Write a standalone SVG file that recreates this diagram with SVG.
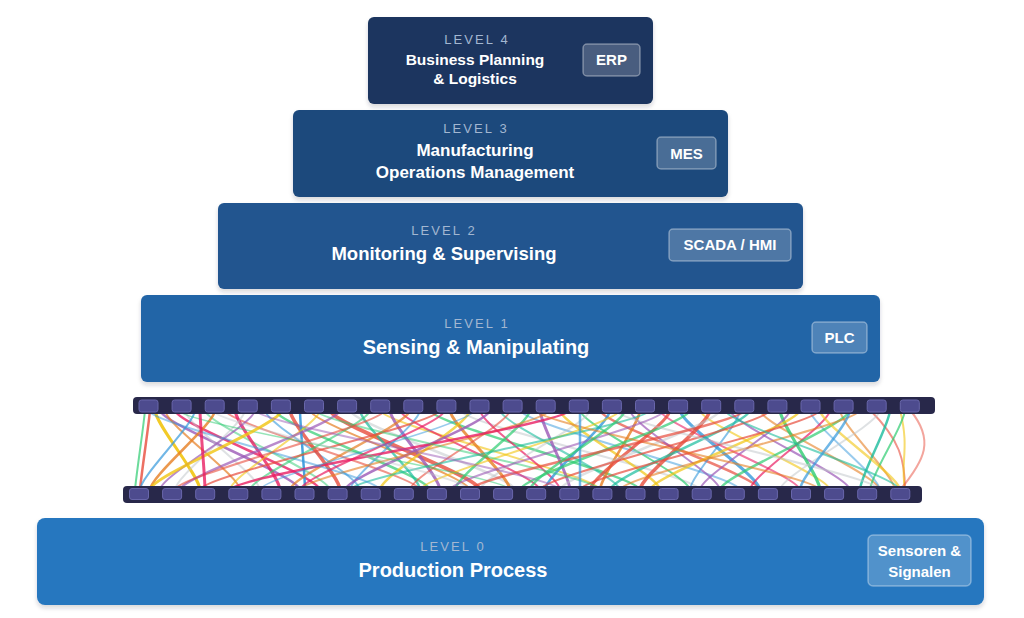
<svg xmlns="http://www.w3.org/2000/svg" width="1024" height="618" viewBox="0 0 1024 618">
<defs>
<filter id="sh" x="-5%" y="-10%" width="110%" height="130%">
<feDropShadow dx="0" dy="3" stdDeviation="2" flood-color="#1a2a40" flood-opacity="0.18"/>
</filter>
<style>
text{font-family:"Liberation Sans",Arial,sans-serif;text-anchor:middle}
.lv{font-size:13px;fill:#a3b7d1;letter-spacing:2.1px}
.tt{font-weight:bold;fill:#ffffff}
.bd{fill:rgba(255,255,255,0.2);stroke:rgba(255,255,255,0.35);stroke-width:1.5}
.bt{font-weight:bold;fill:#ffffff;font-size:15px}
.bar{fill:#28284a}
.port{fill:#4d4b8e;stroke:#6866aa;stroke-width:1}
.w{fill:none;stroke-linecap:round}
.r{stroke:#e74c3c}.g{stroke:#2ecc71}.b{stroke:#3498db}.p{stroke:#9b59b6}.o{stroke:#e67e22}.y{stroke:#f1c40f}.k{stroke:#e91e63}.s{stroke:#bdc3c7}.t{stroke:#1abc9c}
</style>
</defs>
<rect width="1024" height="618" fill="#ffffff"/>

<g id="level4">
<rect x="368" y="17" width="285" height="87" rx="6" fill="#1b365f" filter="url(#sh)"/>
<text class="lv" x="477" y="44">LEVEL 4</text>
<text class="tt" x="475" y="65" font-size="15.5">Business Planning</text>
<text class="tt" x="475" y="84" font-size="15.5">&amp; Logistics</text>
<rect class="bd" x="583" y="44" width="57" height="32" rx="4"/>
<text class="bt" x="611.5" y="65">ERP</text>
</g>

<g id="level3">
<rect x="293" y="110" width="435" height="87" rx="6" fill="#1e4a7b" filter="url(#sh)"/>
<text class="lv" x="476" y="133">LEVEL 3</text>
<text class="tt" x="475" y="156" font-size="17">Manufacturing</text>
<text class="tt" x="475" y="178" font-size="17">Operations Management</text>
<rect class="bd" x="657" y="137" width="59" height="32" rx="4"/>
<text class="bt" x="686.5" y="158.5">MES</text>
</g>

<g id="level2">
<rect x="218" y="203" width="585" height="86" rx="6" fill="#21558f" filter="url(#sh)"/>
<text class="lv" x="444" y="235">LEVEL 2</text>
<text class="tt" x="444" y="260" font-size="18.5">Monitoring &amp; Supervising</text>
<rect class="bd" x="669" y="229" width="122" height="32" rx="4"/>
<text class="bt" x="730" y="250">SCADA / HMI</text>
</g>

<g id="level1">
<rect x="141" y="295" width="739" height="87" rx="6" fill="#2365a7" filter="url(#sh)"/>
<text class="lv" x="477" y="328">LEVEL 1</text>
<text class="tt" x="476" y="354" font-size="20">Sensing &amp; Manipulating</text>
<rect class="bd" x="812" y="322" width="55" height="31" rx="4"/>
<text class="bt" x="839.5" y="343">PLC</text>
</g>

<g id="connectors">
<path class="w g" d="M145 410C144 424 136 476 135 490" stroke-width="2" opacity=".7"/>
<path class="w r" d="M150 410C149 424 141 476 140 490" stroke-width="2.5" opacity=".8"/>
<path class="w y" d="M155 410C155 424 200 476 200 490" stroke-width="3" opacity=".9"/>
<path class="w p" d="M160 410C160 424 300 476 300 490" stroke-width="2.5" opacity=".8"/>
<path class="w o" d="M165 410C165 424 240 476 240 490" stroke-width="2" opacity=".7"/>
<path class="w k" d="M175 410C175 424 320 476 320 490" stroke-width="2.5" opacity=".8"/>
<path class="w s" d="M185 410C185 424 260 476 260 490" stroke-width="2" opacity=".5"/>
<path class="w b" d="M195 410C195 424 140 476 140 490" stroke-width="2" opacity=".7"/>
<path class="w g" d="M205 410C205 424 330 476 330 490" stroke-width="2" opacity=".5"/>
<path class="w o" d="M215 410C215 424 150 476 150 490" stroke-width="2.5" opacity=".8"/>
<path class="w r" d="M225 410C225 424 420 476 420 490" stroke-width="2" opacity=".6"/>
<path class="w k" d="M235 410C235 424 280 476 280 490" stroke-width="3" opacity=".8"/>
<path class="w s" d="M245 410C245 424 175 476 175 490" stroke-width="2" opacity=".5"/>
<path class="w p" d="M255 410C255 424 160 476 160 490" stroke-width="2" opacity=".7"/>
<path class="w b" d="M265 410C265 424 360 476 360 490" stroke-width="2" opacity=".6"/>
<path class="w g" d="M275 410C275 424 430 476 430 490" stroke-width="2.5" opacity=".7"/>
<path class="w r" d="M290 410C290 424 340 476 340 490" stroke-width="3.5" opacity=".8"/>
<path class="w b" d="M300 410C300 424 305 476 305 490" stroke-width="2.5" opacity=".9"/>
<path class="w o" d="M310 410C310 424 470 476 470 490" stroke-width="2" opacity=".7"/>
<path class="w y" d="M320 410C320 424 230 476 230 490" stroke-width="2" opacity=".6"/>
<path class="w r" d="M330 410C330 424 480 476 480 490" stroke-width="4" opacity=".8"/>
<path class="w p" d="M340 410C340 424 180 476 180 490" stroke-width="2.5" opacity=".7"/>
<path class="w s" d="M350 410C350 424 515 476 515 490" stroke-width="2.5" opacity=".5"/>
<path class="w t" d="M360 410C360 424 420 476 420 490" stroke-width="2.5" opacity=".7"/>
<path class="w g" d="M370 410C370 424 250 476 250 490" stroke-width="2" opacity=".6"/>
<path class="w y" d="M380 410C380 424 600 476 600 490" stroke-width="2" opacity=".6"/>
<path class="w p" d="M390 410C390 424 440 476 440 490" stroke-width="3" opacity=".8"/>
<path class="w k" d="M400 410C400 424 540 476 540 490" stroke-width="2" opacity=".7"/>
<path class="w o" d="M410 410C410 424 290 476 290 490" stroke-width="2.5" opacity=".7"/>
<path class="w b" d="M420 410C420 424 350 476 350 490" stroke-width="2" opacity=".6"/>
<path class="w g" d="M430 410C430 424 640 476 640 490" stroke-width="2.5" opacity=".7"/>
<path class="w r" d="M440 410C440 424 200 476 200 490" stroke-width="2" opacity=".7"/>
<path class="w o" d="M450 410C450 424 510 476 510 490" stroke-width="3" opacity=".8"/>
<path class="w s" d="M460 410C460 424 700 476 700 490" stroke-width="2" opacity=".5"/>
<path class="w y" d="M470 410C470 424 380 476 380 490" stroke-width="2.5" opacity=".7"/>
<path class="w k" d="M480 410C480 424 560 476 560 490" stroke-width="2" opacity=".7"/>
<path class="w p" d="M490 410C490 424 345 476 345 490" stroke-width="2.5" opacity=".8"/>
<path class="w t" d="M500 410C500 424 620 476 620 490" stroke-width="2" opacity=".6"/>
<path class="w r" d="M510 410C510 424 410 476 410 490" stroke-width="2" opacity=".6"/>
<path class="w b" d="M520 410C520 424 740 476 740 490" stroke-width="2" opacity=".5"/>
<path class="w g" d="M530 410C530 424 455 476 455 490" stroke-width="2.5" opacity=".7"/>
<path class="w p" d="M540 410C540 424 570 476 570 490" stroke-width="3" opacity=".8"/>
<path class="w o" d="M550 410C550 424 300 476 300 490" stroke-width="2" opacity=".6"/>
<path class="w y" d="M560 410C560 424 660 476 660 490" stroke-width="2.5" opacity=".7"/>
<path class="w k" d="M570 410C570 424 230 476 230 490" stroke-width="2.5" opacity=".8"/>
<path class="w g" d="M580 410C580 424 690 476 690 490" stroke-width="2" opacity=".7"/>
<path class="w s" d="M590 410C590 424 480 476 480 490" stroke-width="2" opacity=".5"/>
<path class="w r" d="M600 410C600 424 760 476 760 490" stroke-width="2.5" opacity=".7"/>
<path class="w b" d="M610 410C610 424 545 476 545 490" stroke-width="2.5" opacity=".8"/>
<path class="w y" d="M620 410C620 424 420 476 420 490" stroke-width="2" opacity=".6"/>
<path class="w p" d="M630 410C630 424 720 476 720 490" stroke-width="2" opacity=".7"/>
<path class="w o" d="M640 410C640 424 600 476 600 490" stroke-width="2.5" opacity=".8"/>
<path class="w t" d="M650 410C650 424 350 476 350 490" stroke-width="2" opacity=".6"/>
<path class="w k" d="M660 410C660 424 800 476 800 490" stroke-width="2" opacity=".6"/>
<path class="w r" d="M670 410C670 424 590 476 590 490" stroke-width="3" opacity=".8"/>
<path class="w b" d="M680 410C680 424 760 476 760 490" stroke-width="3" opacity=".8"/>
<path class="w g" d="M690 410C690 424 520 476 520 490" stroke-width="2.5" opacity=".7"/>
<path class="w y" d="M700 410C700 424 830 476 830 490" stroke-width="2" opacity=".6"/>
<path class="w r" d="M710 410C710 424 640 476 640 490" stroke-width="3.5" opacity=".8"/>
<path class="w s" d="M720 410C720 424 560 476 560 490" stroke-width="2.5" opacity=".5"/>
<path class="w p" d="M730 410C730 424 850 476 850 490" stroke-width="2" opacity=".7"/>
<path class="w b" d="M740 410C740 424 690 476 690 490" stroke-width="2" opacity=".6"/>
<path class="w t" d="M750 410C750 424 610 476 610 490" stroke-width="2.5" opacity=".7"/>
<path class="w o" d="M760 410C760 424 880 476 880 490" stroke-width="2" opacity=".6"/>
<path class="w r" d="M770 410C770 424 540 476 540 490" stroke-width="2" opacity=".7"/>
<path class="w g" d="M780 410C780 424 820 476 820 490" stroke-width="3" opacity=".8"/>
<path class="w p" d="M790 410C790 424 700 476 700 490" stroke-width="2" opacity=".7"/>
<path class="w y" d="M800 410C800 424 650 476 650 490" stroke-width="2.5" opacity=".7"/>
<path class="w b" d="M810 410C810 424 880 476 880 490" stroke-width="2" opacity=".5"/>
<path class="w r" d="M820 410C820 424 580 476 580 490" stroke-width="2" opacity=".7"/>
<path class="w k" d="M830 410C830 424 750 476 750 490" stroke-width="2" opacity=".7"/>
<path class="w o" d="M840 410C840 424 895 476 895 490" stroke-width="2" opacity=".6"/>
<path class="w g" d="M850 410C850 424 720 476 720 490" stroke-width="2.5" opacity=".7"/>
<path class="w o" d="M860 410C860 424 620 476 620 490" stroke-width="2" opacity=".6"/>
<path class="w r" d="M870 410C900 440 905 460 905 490" stroke-width="2" opacity=".6"/>
<path class="w s" d="M880 410C880 424 780 476 780 490" stroke-width="2" opacity=".5"/>
<path class="w t" d="M890 410C890 424 860 476 860 490" stroke-width="2.5" opacity=".8"/>
<path class="w y" d="M900 410C910 450 900 460 905 490" stroke-width="2" opacity=".6"/>
<path class="w g" d="M905 410C905 424 870 476 870 490" stroke-width="2" opacity=".7"/>
<path class="w r" d="M910 410C935 440 925 460 900 490" stroke-width="2" opacity=".5"/>
<path class="w b" d="M148 410C148 424 380 476 380 490" stroke-width="2" opacity=".5"/>
<path class="w g" d="M178 410C178 424 510 476 510 490" stroke-width="1.5" opacity=".5"/>
<path class="w s" d="M212 410C212 424 470 476 470 490" stroke-width="2" opacity=".4"/>
<path class="w y" d="M282 410C282 424 150 476 150 490" stroke-width="3" opacity=".8"/>
<path class="w g" d="M315 410C315 424 600 476 600 490" stroke-width="2" opacity=".5"/>
<path class="w k" d="M445 410C445 424 300 476 300 490" stroke-width="2" opacity=".7"/>
<path class="w o" d="M535 410C535 424 820 476 820 490" stroke-width="2" opacity=".6"/>
<path class="w s" d="M615 410C615 424 880 476 880 490" stroke-width="2" opacity=".5"/>
<path class="w p" d="M665 410C665 424 450 476 450 490" stroke-width="2" opacity=".6"/>
<path class="w r" d="M745 410C745 424 470 476 470 490" stroke-width="2.5" opacity=".7"/>
<path class="w b" d="M475 410C475 424 260 476 260 490" stroke-width="1.5" opacity=".5"/>
<path class="w r" d="M385 410C385 424 175 476 175 490" stroke-width="2" opacity=".6"/>
<path class="w t" d="M725 410C725 424 900 476 900 490" stroke-width="2" opacity=".6"/>
<path class="w y" d="M820 410C820 424 900 476 900 490" stroke-width="2.5" opacity=".6"/>
<path class="w p" d="M255 410C255 424 560 476 560 490" stroke-width="2" opacity=".5"/>
<path class="w b" d="M580 410C580 424 580 476 580 490" stroke-width="2.5" opacity=".7"/>
<path class="w b" d="M850 410C850 424 800 476 800 490" stroke-width="2.5" opacity=".7"/>
<path class="w k" d="M200 410C200 424 205 476 205 490" stroke-width="3" opacity=".8"/>
<path class="w g" d="M625 410C625 424 530 476 530 490" stroke-width="2.5" opacity=".7"/>
</g>

<g id="patch-top">
<rect class="bar" x="133" y="397" width="802" height="17" rx="4"/>
<rect class="port" x="139" y="400" width="19" height="12" rx="2.5"/>
<rect class="port" x="172.1" y="400" width="19" height="12" rx="2.5"/>
<rect class="port" x="205.2" y="400" width="19" height="12" rx="2.5"/>
<rect class="port" x="238.3" y="400" width="19" height="12" rx="2.5"/>
<rect class="port" x="271.4" y="400" width="19" height="12" rx="2.5"/>
<rect class="port" x="304.5" y="400" width="19" height="12" rx="2.5"/>
<rect class="port" x="337.6" y="400" width="19" height="12" rx="2.5"/>
<rect class="port" x="370.7" y="400" width="19" height="12" rx="2.5"/>
<rect class="port" x="403.8" y="400" width="19" height="12" rx="2.5"/>
<rect class="port" x="436.9" y="400" width="19" height="12" rx="2.5"/>
<rect class="port" x="470" y="400" width="19" height="12" rx="2.5"/>
<rect class="port" x="503.1" y="400" width="19" height="12" rx="2.5"/>
<rect class="port" x="536.2" y="400" width="19" height="12" rx="2.5"/>
<rect class="port" x="569.3" y="400" width="19" height="12" rx="2.5"/>
<rect class="port" x="602.4" y="400" width="19" height="12" rx="2.5"/>
<rect class="port" x="635.5" y="400" width="19" height="12" rx="2.5"/>
<rect class="port" x="668.6" y="400" width="19" height="12" rx="2.5"/>
<rect class="port" x="701.7" y="400" width="19" height="12" rx="2.5"/>
<rect class="port" x="734.8" y="400" width="19" height="12" rx="2.5"/>
<rect class="port" x="767.9" y="400" width="19" height="12" rx="2.5"/>
<rect class="port" x="801" y="400" width="19" height="12" rx="2.5"/>
<rect class="port" x="834.1" y="400" width="19" height="12" rx="2.5"/>
<rect class="port" x="867.2" y="400" width="19" height="12" rx="2.5"/>
<rect class="port" x="900.3" y="400" width="19" height="12" rx="2.5"/>
</g>

<g id="patch-bottom">
<rect class="bar" x="123" y="486" width="799" height="17" rx="4"/>
<rect class="port" x="129.5" y="488.5" width="19" height="11" rx="2.5"/>
<rect class="port" x="162.6" y="488.5" width="19" height="11" rx="2.5"/>
<rect class="port" x="195.7" y="488.5" width="19" height="11" rx="2.5"/>
<rect class="port" x="228.8" y="488.5" width="19" height="11" rx="2.5"/>
<rect class="port" x="261.9" y="488.5" width="19" height="11" rx="2.5"/>
<rect class="port" x="295" y="488.5" width="19" height="11" rx="2.5"/>
<rect class="port" x="328.1" y="488.5" width="19" height="11" rx="2.5"/>
<rect class="port" x="361.2" y="488.5" width="19" height="11" rx="2.5"/>
<rect class="port" x="394.3" y="488.5" width="19" height="11" rx="2.5"/>
<rect class="port" x="427.4" y="488.5" width="19" height="11" rx="2.5"/>
<rect class="port" x="460.5" y="488.5" width="19" height="11" rx="2.5"/>
<rect class="port" x="493.6" y="488.5" width="19" height="11" rx="2.5"/>
<rect class="port" x="526.7" y="488.5" width="19" height="11" rx="2.5"/>
<rect class="port" x="559.8" y="488.5" width="19" height="11" rx="2.5"/>
<rect class="port" x="592.9" y="488.5" width="19" height="11" rx="2.5"/>
<rect class="port" x="626" y="488.5" width="19" height="11" rx="2.5"/>
<rect class="port" x="659.1" y="488.5" width="19" height="11" rx="2.5"/>
<rect class="port" x="692.2" y="488.5" width="19" height="11" rx="2.5"/>
<rect class="port" x="725.3" y="488.5" width="19" height="11" rx="2.5"/>
<rect class="port" x="758.4" y="488.5" width="19" height="11" rx="2.5"/>
<rect class="port" x="791.5" y="488.5" width="19" height="11" rx="2.5"/>
<rect class="port" x="824.6" y="488.5" width="19" height="11" rx="2.5"/>
<rect class="port" x="857.7" y="488.5" width="19" height="11" rx="2.5"/>
<rect class="port" x="890.8" y="488.5" width="19" height="11" rx="2.5"/>
</g>

<g id="level0">
<rect x="37" y="518" width="947" height="87" rx="8" fill="#2677bf" filter="url(#sh)"/>
<text class="lv" x="453" y="551">LEVEL 0</text>
<text class="tt" x="453" y="577" font-size="20">Production Process</text>
<rect class="bd" x="868" y="535" width="103" height="51" rx="5"/>
<text class="bt" x="919.5" y="556" font-size="14">Sensoren &amp;</text>
<text class="bt" x="919.5" y="577" font-size="14">Signalen</text>
</g>
</svg>
